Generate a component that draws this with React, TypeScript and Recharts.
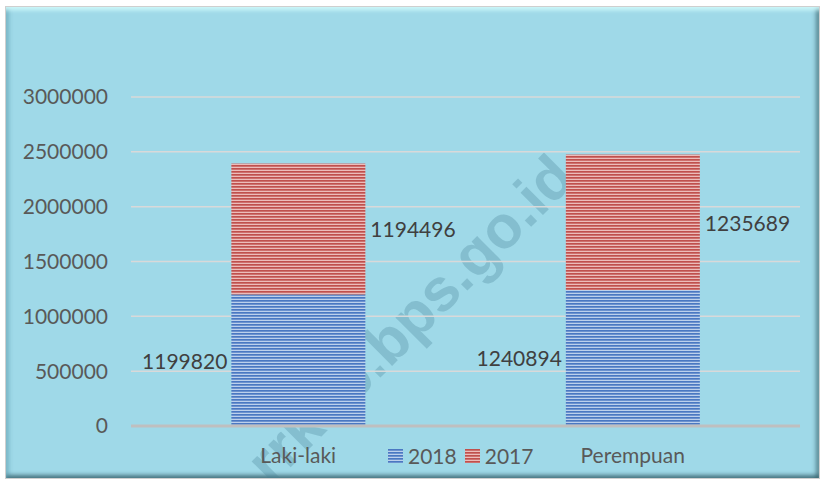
import React from 'react';
import { BarChart, Bar, XAxis, YAxis, CartesianGrid, Legend, LabelList } from 'recharts';

const categories = ['Laki-laki', 'Perempuan'];
const values2018 = [1199820, 1240894];
const values2017 = [1194496, 1235689];
const yTicks = [0, 500000, 1000000, 1500000, 2000000, 2500000, 3000000];
const seriesNames = ['2018', '2017'];

const FONT = 'Lato, "Open Sans", sans-serif';

const data = categories.map((name, i) => ({
  name,
  y2018: values2018[i],
  y2017: values2017[i],
}));

// label left of the bar (bottom series) or right of it (top series)
const SideLabel = (side: 'left' | 'right') => (props: any) => {
  const { x, y, width, height, value } = props;
  const cy = y + height / 2;
  if (side === 'left') {
    return (
      <text x={x - 4} y={cy} textAnchor="end" dominantBaseline="central" fill="#404040" fontSize={21} fontFamily={FONT}>
        {value}
      </text>
    );
  }
  return (
    <text x={x + width + 5} y={cy} textAnchor="start" dominantBaseline="central" fill="#404040" fontSize={21} fontFamily={FONT}>
      {value}
    </text>
  );
};

const LegendContent = () => {
  const fills = ['url(#blueStripe)', 'url(#redStripe)'];
  return (
    <div style={{ display: 'flex', alignItems: 'center', fontFamily: FONT, fontSize: 21, color: '#595959' }}>
      {seriesNames.map((s, i) => (
        <span key={s} style={{ display: 'flex', alignItems: 'center', marginRight: 8 }}>
          <svg width={15} height={14} style={{ marginRight: 5 }}>
            <rect width={15} height={14} fill={fills[i]} />
          </svg>
          {s}
        </span>
      ))}
    </div>
  );
};

export default function App() {
  return (
    <div style={{ position: 'absolute', left: 0, top: 0, width: 822, height: 482, background: '#fff' }}>
      <div
        style={{
          position: 'absolute',
          left: 5,
          top: 6,
          width: 813,
          height: 471,
          overflow: 'hidden',
          background: '#9fd9e8',
          border: '1px solid #cfcfcf',
          boxShadow:
            'inset 0 5px 4px -2px rgba(215,255,255,0.9), inset 5px 0 4px -2px rgba(70,140,160,0.45), inset -5px 0 4px -2px rgba(40,80,90,0.6), inset 0 -5px 4px -2px rgba(40,80,90,0.7)',
        }}
      >
        {/* watermark sits behind the chart */}
        <svg width={813} height={471} style={{ position: 'absolute', left: 0, top: 0 }}>
          <text
            x={404}
            y={312}
            textAnchor="middle"
            dominantBaseline="central"
            transform="rotate(-45 404 312)"
            fontSize={60}
            fontWeight="bold"
            fontFamily='"Liberation Sans", Arial, sans-serif'
            fill="rgba(70,130,150,0.3)"
          >
            rrkab.bps.go.id
          </text>
        </svg>
      </div>
      <div style={{ position: 'absolute', left: 0, top: 0 }}>
        <BarChart
          width={822}
          height={482}
          data={data}
          margin={{ top: 97, right: 22, bottom: 0, left: 0 }}
          barCategoryGap="30%"
        >
          <defs>
            <pattern id="blueStripe" width={6} height={3} patternUnits="userSpaceOnUse">
              <rect width={6} height={3} fill="#bcd0ec" />
              <rect width={6} height={1.7} fill="#4a78c2" />
            </pattern>
            <pattern id="redStripe" width={6} height={3} patternUnits="userSpaceOnUse">
              <rect width={6} height={3} fill="#ecbcba" />
              <rect width={6} height={1.7} fill="#c0504d" />
            </pattern>
          </defs>
          <CartesianGrid vertical={false} stroke="#d9d9d9" strokeWidth={1.5} />
          <XAxis
            dataKey="name"
            height={56}
            tickSize={0}
            tickMargin={22}
            axisLine={{ stroke: '#bfbfbf', strokeWidth: 3 }}
            tick={{ fill: '#595959', fontSize: 21, fontFamily: FONT }}
          />
          <YAxis
            width={131}
            domain={[0, 3000000]}
            ticks={yTicks}
            tickSize={0}
            tickMargin={23}
            axisLine={false}
            tick={{ fill: '#595959', fontSize: 21, fontFamily: FONT }}
          />
          <Legend
            layout="horizontal"
            verticalAlign="middle"
            align="center"
            content={<LegendContent />}
            wrapperStyle={{ top: 443, left: 388, width: 'auto' }}
          />
          <Bar dataKey="y2018" name="2018" stackId="a" fill="url(#blueStripe)" isAnimationActive={false}>
            <LabelList dataKey="y2018" content={SideLabel('left')} />
          </Bar>
          <Bar dataKey="y2017" name="2017" stackId="a" fill="url(#redStripe)" isAnimationActive={false}>
            <LabelList dataKey="y2017" content={SideLabel('right')} />
          </Bar>
        </BarChart>
      </div>
    </div>
  );
}
